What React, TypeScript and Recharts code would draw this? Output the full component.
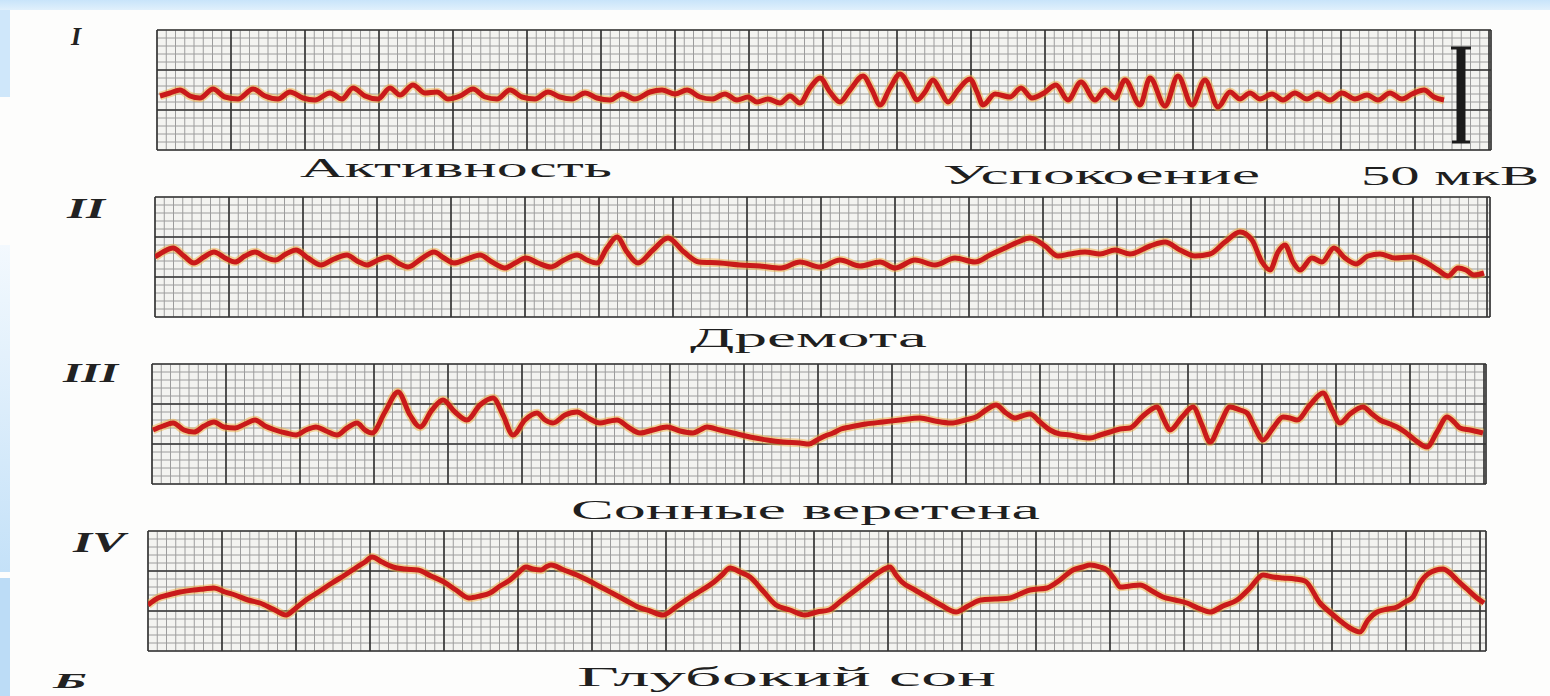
import React from 'react';
import { LineChart, Line, XAxis, YAxis, CartesianGrid, ReferenceLine } from 'recharts';

// ---------- EEG traces (time units along the paper, amplitude units) ----------
// I — Активность / Успокоение
const tI = [3,13,23,33,43,56,68,81,96,108,121,133,146,158,173,185,196,208,221,233,243,256,268,280,291,303,316,328,340,353,365,378,391,403,415,428,440,453,465,478,493,505,518,530,543,555,568,580,591,600,611,623,633,643,653,663,673,683,693,706,715,723,733,743,753,760,768,776,783,791,801,813,820,826,838,853,864,875,887,899,911,924,938,948,958,968,983,993,1008,1021,1035,1048,1061,1073,1083,1093,1103,1115,1126,1138,1150,1161,1173,1185,1198,1210,1221,1233,1245,1255,1267,1277,1287];
const vI = [-6,-3,0,-6,-8,1,-7,-9,1,-6,-9,-2,-8,-10,-3,-9,2,-6,-9,2,-5,5,-3,-2,-9,-6,1,-7,-9,0,-7,-9,-2,-7,-9,-3,-8,-10,-4,-9,-2,0,-4,0,-7,-9,-4,-10,-7,-12,-9,-13,-6,-13,2,12,-2,-12,0,14,0,-15,2,16,2,-10,-2,10,0,-12,0,11,-2,-15,-4,-7,2,-8,-3,5,-10,8,-10,0,-8,10,-15,12,-16,14,-15,10,-17,-2,-9,-3,-9,-4,-10,-3,-9,-4,-10,-3,-9,-5,-10,-3,-9,-4,0,-7,-10];

// II — Дремота
const tII = [0,8,18,29,39,49,59,70,80,90,100,110,120,131,141,153,166,179,192,202,212,223,233,243,253,266,279,289,299,312,325,337,350,360,371,383,396,409,422,432,442,452,462,472,483,498,513,529,544,565,585,605,626,645,665,685,705,725,740,760,780,800,820,835,850,863,875,890,903,915,930,945,960,975,995,1010,1025,1040,1055,1070,1085,1097,1107,1115,1123,1130,1138,1145,1157,1167,1179,1190,1201,1213,1225,1240,1257,1270,1283,1293,1303,1311,1319,1329];
const vII = [0,5,9,1,-6,0,5,-1,-5,1,5,0,-3,3,7,-1,-8,-2,2,-4,-8,-3,0,-6,-10,-2,5,-1,-6,-2,2,-5,-11,-6,-1,-6,-10,-3,2,-3,-6,9,20,5,-6,7,19,5,-5,-6,-8,-9,-11,-5,-10,-3,-9,-5,-11,-3,-8,-1,-5,2,9,15,19,11,1,3,5,3,7,3,11,15,7,1,3,15,25,17,-5,-13,5,12,-5,-13,-1,-5,9,-1,-7,1,3,-1,0,-5,-13,-19,-11,-13,-18,-16];

// III — Сонные веретена
const tIII = [1,11,21,32,42,52,62,72,83,93,103,113,123,134,144,154,164,174,185,195,205,213,220,233,246,258,268,280,291,303,315,328,341,351,361,373,385,393,401,413,425,436,448,458,465,476,488,501,515,528,541,548,555,568,581,598,615,631,648,657,665,673,681,689,698,714,731,748,768,783,799,813,824,834,844,854,863,870,878,888,898,908,918,928,938,948,958,968,978,991,1005,1012,1018,1030,1041,1050,1058,1068,1078,1088,1095,1103,1111,1121,1131,1138,1145,1158,1171,1180,1188,1198,1211,1220,1228,1238,1245,1253,1263,1275,1285,1295,1303,1308,1318,1331];
const vIII = [-6,-2,1,-6,-8,-2,2,-3,-4,0,4,-2,-6,-9,-11,-6,-3,-7,-11,-4,1,-6,-9,12,32,9,-3,14,24,12,4,19,26,9,-11,4,11,4,1,9,12,6,1,3,4,-3,-9,-6,-3,-7,-9,-6,-3,-6,-9,-13,-16,-18,-19,-20,-16,-12,-9,-5,-3,0,2,4,6,3,1,4,7,14,19,11,6,8,10,2,-6,-10,-11,-13,-14,-11,-8,-5,-4,8,17,4,-6,7,17,-1,-18,0,17,14,11,-4,-16,-4,7,6,4,19,31,14,1,10,17,10,4,0,-3,-8,-16,-23,-8,7,1,-4,-6,-9];

// IV — Глубокий сон
const tIV = [0,10,20,32,46,56,66,77,87,100,112,125,138,148,158,172,184,197,209,217,224,234,245,257,270,283,296,308,321,332,342,352,362,370,378,385,393,398,403,416,429,447,464,477,490,502,515,528,541,554,566,574,582,592,602,615,628,642,657,669,681,693,705,718,730,742,748,754,767,779,793,808,820,833,847,862,872,882,899,912,925,935,942,952,959,967,972,982,992,1004,1015,1027,1039,1050,1062,1075,1089,1102,1115,1125,1135,1147,1157,1172,1184,1195,1202,1212,1220,1229,1240,1249,1257,1265,1272,1280,1295,1302,1309,1319,1329,1336];
const vIV = [-14,-7,-4,-1,1,2,3,-1,-4,-9,-12,-18,-24,-17,-9,0,8,16,24,29,34,29,24,22,21,15,9,1,-7,-5,-2,5,11,18,24,22,21,24,26,21,16,7,-2,-9,-16,-20,-24,-16,-7,1,9,16,23,19,14,0,-14,-19,-24,-21,-19,-10,-1,9,18,24,16,9,1,-6,-14,-21,-15,-9,-8,-7,-3,1,3,11,21,24,26,24,21,11,4,5,6,0,-6,-9,-12,-17,-21,-15,-9,3,16,14,13,12,10,-12,-23,-32,-37,-41,-29,-21,-18,-16,-11,-6,8,17,22,18,11,2,-7,-12];

// calibration mark (50 мкВ) on trace I
const CAL_T = 1304;
const CAL_TOP = 42;
const CAL_BOTTOM = -52;

// ---------- paper grid ----------
const HALF = 60;
const MAJOR_X_STEP = 74;
const MINOR_X_STEP = 9.25;
const MINOR_Y_STEP = 8;
const MAJOR_Y = [-60, -20, 20, 60];

function steps(from: number, to: number, step: number): number[] {
  const out: number[] = [];
  for (let x = from; x <= to + 1e-6; x += step) out.push(Math.round(x * 100) / 100);
  return out;
}

type PanelProps = { left: number; top: number; width: number; t: number[]; v: number[]; calibration?: boolean };

function Panel({ left, top, width, t, v, calibration }: PanelProps) {
  const data = t.map((time, i) => ({ t: time, v: v[i] }));
  const minorX = steps(0, width, MINOR_X_STEP);
  const majorX = [...steps(0, width, MAJOR_X_STEP), width];
  const minorY = steps(-HALF, HALF, MINOR_Y_STEP);
  return (
    <div style={{ position: 'absolute', left: left - 1, top: top - 1 }}>
      <LineChart width={width + 2} height={HALF * 2 + 2} data={data} margin={{ top: 1, right: 1, bottom: 1, left: 1 }}>
        <XAxis xAxisId="minor" type="number" dataKey="t" domain={[0, width]} ticks={minorX} interval={0} minTickGap={0} allowDataOverflow hide />
        <XAxis xAxisId="major" type="number" dataKey="t" domain={[0, width]} ticks={majorX} interval={0} minTickGap={0} allowDataOverflow hide />
        <YAxis yAxisId="minor" type="number" domain={[-HALF, HALF]} ticks={minorY} interval={0} minTickGap={0} allowDataOverflow hide />
        <YAxis yAxisId="major" type="number" domain={[-HALF, HALF]} ticks={MAJOR_Y} interval={0} minTickGap={0} allowDataOverflow hide />
        <CartesianGrid xAxisId="minor" yAxisId="minor" stroke="#9c9c9c" strokeWidth={1} fill="#f3f3f0" fillOpacity={1} />
        <CartesianGrid xAxisId="major" yAxisId="major" stroke="#333333" strokeWidth={1.6} />
        <Line xAxisId="major" yAxisId="major" dataKey="v" type="monotone" stroke="#f0b040" strokeWidth={8.5} strokeOpacity={0.5} dot={false} activeDot={false} isAnimationActive={false} />
        <Line xAxisId="major" yAxisId="major" dataKey="v" type="monotone" stroke="#c91a1a" strokeWidth={5} dot={false} activeDot={false} isAnimationActive={false} />
        {calibration && (
          <ReferenceLine xAxisId="major" yAxisId="major" segment={[{ x: CAL_T, y: CAL_TOP }, { x: CAL_T, y: CAL_BOTTOM }]} stroke="#1b1b1b" strokeWidth={9} />
        )}
        {calibration && (
          <ReferenceLine xAxisId="major" yAxisId="major" segment={[{ x: CAL_T - 10, y: CAL_TOP }, { x: CAL_T + 10, y: CAL_TOP }]} stroke="#1b1b1b" strokeWidth={3} />
        )}
        {calibration && (
          <ReferenceLine xAxisId="major" yAxisId="major" segment={[{ x: CAL_T - 9, y: CAL_BOTTOM }, { x: CAL_T + 9, y: CAL_BOTTOM }]} stroke="#1b1b1b" strokeWidth={3} />
        )}
      </LineChart>
    </div>
  );
}

const SERIF = "'Liberation Serif', 'DejaVu Serif', serif";

const CAPTIONS = [
  { text: 'Активность', x: 300, y: 177, len: 312 },
  { text: 'Успокоение', x: 943, y: 184, len: 317 },
  { text: '50 мкВ', x: 1361, y: 185, len: 178 },
  { text: 'Дремота', x: 690, y: 347, len: 237 },
  { text: 'Сонные веретена', x: 571, y: 519, len: 469 },
  { text: 'Глубокий сон', x: 577, y: 686, len: 419 },
];

const NUMERALS = [
  { text: 'I', x: 71, y: 45, size: 26, len: 0 },
  { text: 'II', x: 67, y: 218, size: 30, len: 38 },
  { text: 'III', x: 63, y: 382, size: 28, len: 55 },
  { text: 'IV', x: 73, y: 552, size: 30, len: 52 },
  { text: 'Б', x: 53, y: 688, size: 22, len: 34 },
];

export default function App() {
  return (
    <div style={{ position: 'fixed', left: 0, top: 0, width: 1550, height: 696, overflow: 'hidden', background: '#fdfdfc' }}>
      <div style={{ position: 'absolute', left: 0, top: 0, width: 1550, height: 10, background: 'linear-gradient(#c8e4fa, #e0f0fc)' }} />
      <div style={{ position: 'absolute', left: 0, top: 10, width: 10, height: 87, background: '#cfe7fa' }} />
      <div style={{ position: 'absolute', left: 0, top: 245, width: 10, height: 327, background: 'linear-gradient(#f3f9fe, #c4e1f8)' }} />
      <div style={{ position: 'absolute', left: 0, top: 578, width: 10, height: 118, background: '#bcdcf6' }} />

      <Panel left={157} top={30} width={1334} t={tI} v={vI} calibration />
      <Panel left={155} top={197} width={1335} t={tII} v={vII} />
      <Panel left={152} top={364} width={1334} t={tIII} v={vIII} />
      <Panel left={148} top={531} width={1338} t={tIV} v={vIV} />

      <svg width={1550} height={696} style={{ position: 'absolute', left: 0, top: 0, pointerEvents: 'none' }}>
        {CAPTIONS.map((c) => (
          <text key={c.text} x={c.x} y={c.y} fontFamily={SERIF} fontSize={27} fill="#1f1f1f" textLength={c.len} lengthAdjust="spacingAndGlyphs">
            {c.text}
          </text>
        ))}
        {NUMERALS.map((n) => (
          <text key={n.text} x={n.x} y={n.y} fontFamily={SERIF} fontSize={n.size} fontStyle="italic" fontWeight="bold" fill="#222"
            {...(n.len ? { textLength: n.len, lengthAdjust: 'spacingAndGlyphs' } : {})}>
            {n.text}
          </text>
        ))}
      </svg>
    </div>
  );
}
